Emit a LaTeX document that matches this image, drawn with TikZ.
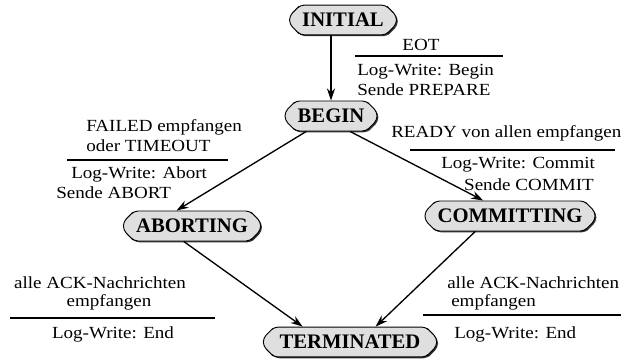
\documentclass[tikz,border=0pt]{standalone}
\usepackage{fontspec}
\setmainfont{Liberation Serif}
\newfontfamily\lblfont{Liberation Serif}[FakeStretch=1.12]
\usetikzlibrary{shapes.misc,shadows,arrows.meta}

\tikzset{
    state/.style={chamfered rectangle, chamfered rectangle xsep=5pt, draw, line width=0.7pt,
        rounded corners=3pt, fill=gray!25, inner xsep=4.5pt, inner ysep=3pt,
        font=\bfseries\fontsize{15.5}{17}\selectfont,
        drop shadow={shadow xshift=1pt, shadow yshift=-1pt, opacity=0.8, fill=black}},
    lbl/.style={inner sep=0pt, font=\lblfont\fontsize{12.75}{14}\selectfont},
    bar/.style={line width=2pt},
    trans/.style={->, line width=1pt},
    >={Stealth[length=9pt, width=6pt]}
}

\begin{document}
\begin{tikzpicture}[x=0.75pt, y=-0.75pt]
        \useasboundingbox (0,0) rectangle (621,360);

        \node[state] (INITIAL) at (343,20) {INITIAL};
        \node[state] (BEGIN) at (331,116) {BEGIN};
        \node[state] (ABORTING) at (192,226) {ABORTING};
        \node[state] (COMMITTING) at (510,216) {COMMITTING};
        \node[state, minimum width=130pt] (TERMINATED) at (350,342) {TERMINATED};

        % INITIAL -> BEGIN
        \node[lbl] (EOT) at (421,45) {EOT};
        \coordinate (eotL) at (355,56);
        \coordinate (eotR) at (503,56);
        \node[lbl, anchor=west] (LogBegin) at (357,72) {Log-Write: Begin};
        \node[lbl, anchor=west] (SendPrepare) at (357,90) {Sende PREPARE};

        % BEGIN -> ABORTING
        \node[lbl, anchor=west] (Failed) at (86,127) {FAILED empfangen};
        \node[lbl, anchor=west] (Timeout) at (86,146) {oder TIMEOUT};
        \coordinate (failL) at (67,160);
        \coordinate (failR) at (228,160);
        \node[lbl, anchor=west] (LogAbort) at (71,174) {Log-Write: Abort};
        \node[lbl, anchor=west] (SendAbort) at (56,193) {Sende ABORT};

        % BEGIN -> COMMITTING
        \node[lbl, anchor=west] (Ready) at (391,133) {READY von allen empfangen};
        \coordinate (readyL) at (410,150);
        \coordinate (readyR) at (615,150);
        \node[lbl, anchor=west] (LogCommit) at (441,165) {Log-Write: Commit};
        \node[lbl, anchor=east] (SendCommit) at (594,185) {Sende COMMIT};

        % ABORTING -> TERMINATED
        \node[lbl] (AckAbort) at (100,283) {alle ACK-Nachrichten};
        \node[lbl] (RecvAbort) at (109,302) {empfangen};
        \coordinate (ackAL) at (10,318);
        \coordinate (ackAR) at (215,318);
        \node[lbl] (EndAbort) at (113,334) {Log-Write: End};

        % COMMITTING -> TERMINATED
        \node[lbl, anchor=west] (AckCommit) at (447,283) {alle ACK-Nachrichten};
        \node[lbl, anchor=west] (RecvCommit) at (451,302) {empfangen};
        \coordinate (ackCL) at (423,315);
        \coordinate (ackCR) at (621,315);
        \node[lbl, anchor=west] (EndCommit) at (454,334) {Log-Write: End};

        \draw[bar] (eotL) -- (eotR);
        \draw[bar] (failL) -- (failR);
        \draw[bar] (readyL) -- (readyR);
        \draw[bar] (ackAL) -- (ackAR);
        \draw[bar] (ackCL) -- (ackCR);

        \draw[trans] (BEGIN |- INITIAL.south) -- (BEGIN.north);
        \draw[trans] (BEGIN.212) -- (ABORTING.135);
        \draw[trans] (BEGIN.-39) -- (COMMITTING.150);
        \draw[trans] (ABORTING.-118) -- (TERMINATED.162);
        \draw[trans] (COMMITTING.204) -- (TERMINATED.31);
    \end{tikzpicture}
\end{document}
